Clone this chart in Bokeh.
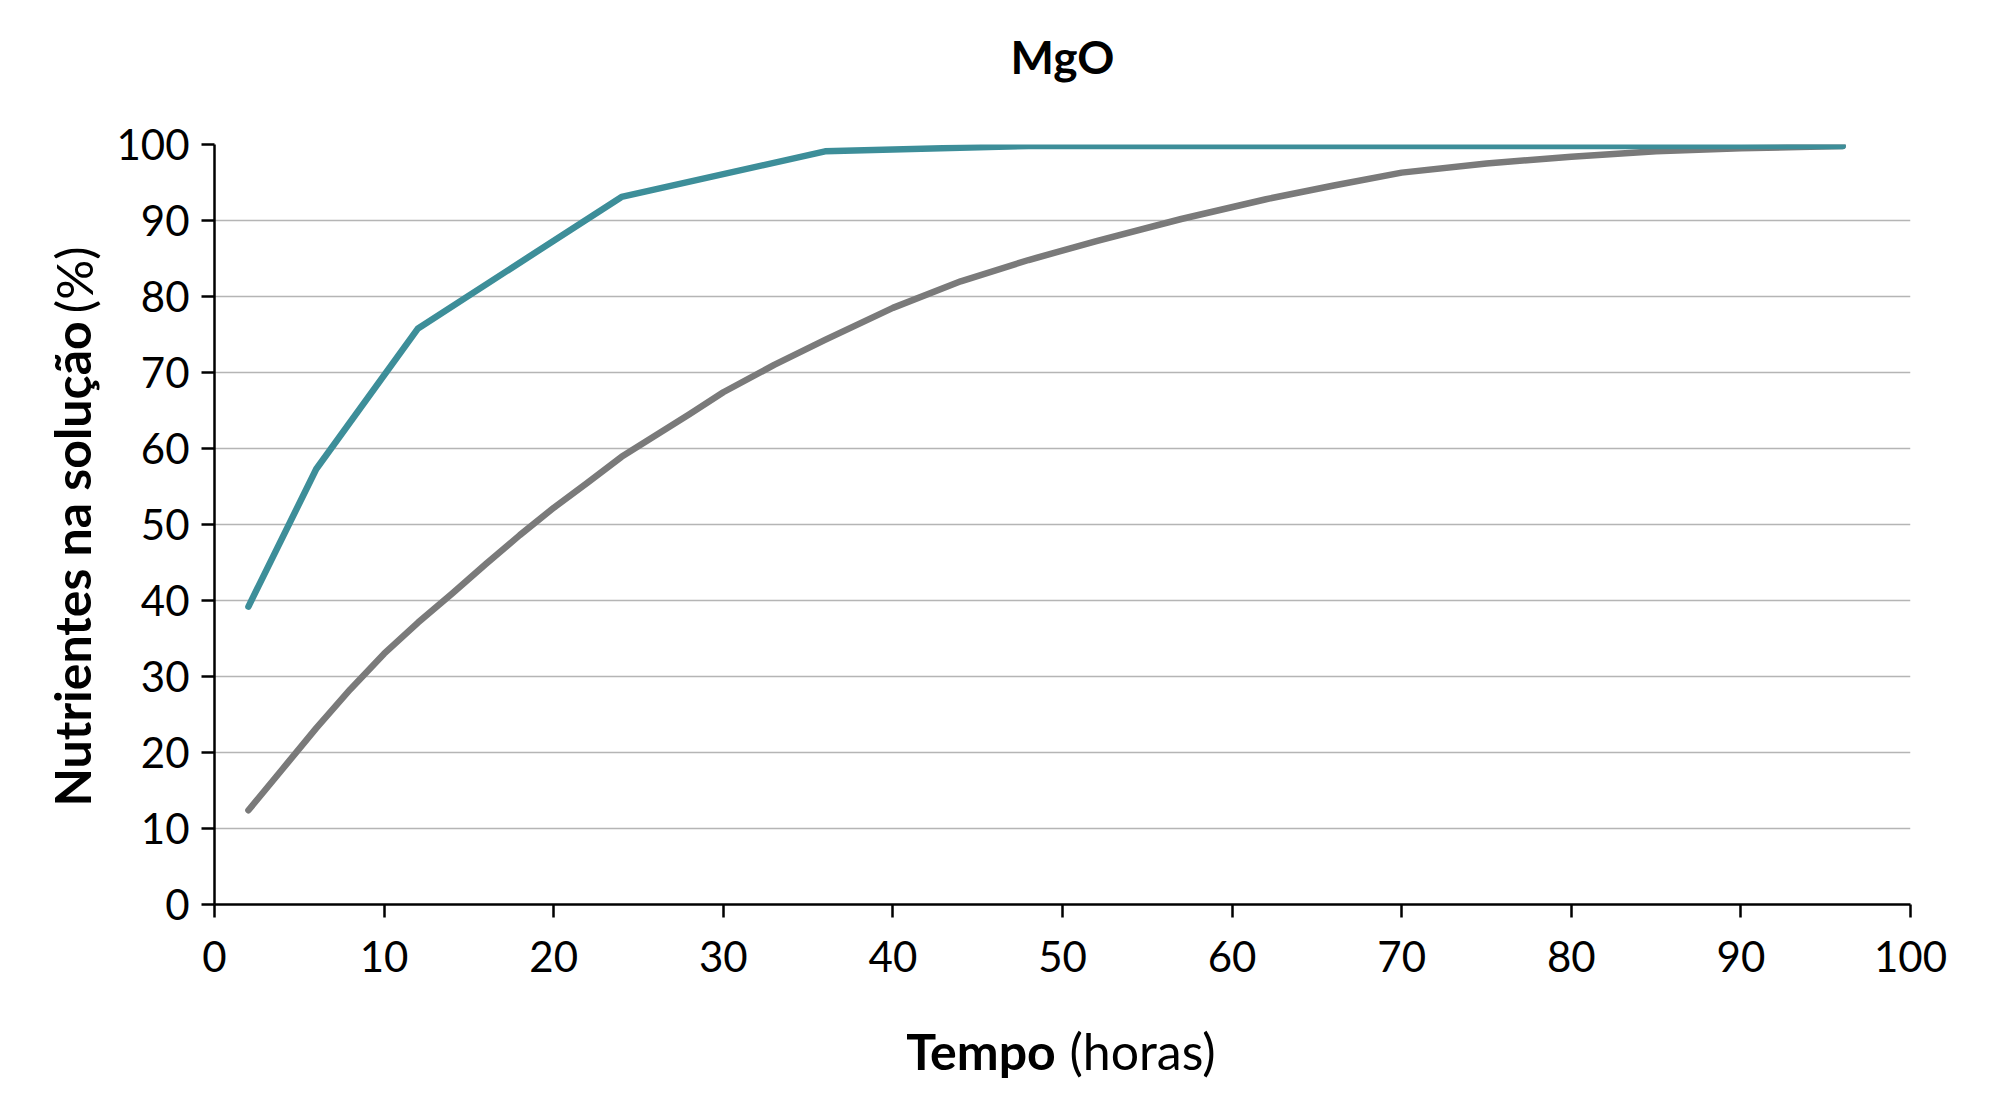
from bokeh.plotting import figure
from bokeh.models import Range1d, FixedTicker, Label
from bokeh.embed import file_html
from bokeh.resources import INLINE
from math import pi

# Data
teal_x = [2, 6, 12, 24, 36, 48, 72, 96]
teal_y = [39.2, 57.3, 75.8, 93.1, 99.1, 99.8, 99.8, 99.8]

gray_x = [2, 4, 6, 8, 10, 12, 14, 16, 18, 20, 22, 24, 26, 28, 30, 33, 36, 40, 44, 48,
          52, 57, 62, 66, 70, 75, 80, 85, 90, 96]
gray_y = [12.4, 17.8, 23.2, 28.3, 33.0, 37.1, 40.9, 44.8, 48.6, 52.2, 55.5, 58.9,
          61.7, 64.5, 67.4, 71.0, 74.3, 78.5, 82.0, 84.8, 87.3, 90.2, 92.8, 94.6,
          96.3, 97.5, 98.4, 99.1, 99.5, 99.8]

x_ticks = [0, 10, 20, 30, 40, 50, 60, 70, 80, 90, 100]
y_ticks = [0, 10, 20, 30, 40, 50, 60, 70, 80, 90, 100]

title_text = "MgO"
xlabel_bold, xlabel_norm = "Tempo", "(horas)"
ylabel_bold, ylabel_norm = "Nutrientes na solução", "(%)"

FONT = "Lato"

p = figure(frame_width=1696, frame_height=760,
           min_border_left=214, min_border_right=80,
           min_border_top=144, min_border_bottom=190,
           x_range=Range1d(0, 100), y_range=Range1d(0, 100),
           output_backend="svg", toolbar_location=None,
           background_fill_color="white", border_fill_color="white")
p.outline_line_color = None

# grid
p.xgrid.grid_line_color = None
p.ygrid.ticker = FixedTicker(ticks=y_ticks[1:])
p.ygrid.grid_line_color = "#b5b5b5"
p.ygrid.grid_line_width = 1.5

for ax in (p.xaxis[0], p.yaxis[0]):
    ax.axis_line_color = "black"
    ax.axis_line_width = 2.5
    ax.major_tick_line_color = "black"
    ax.major_tick_line_width = 2.5
    ax.major_tick_out = 13
    ax.major_tick_in = 0
    ax.minor_tick_line_color = None
    ax.major_label_text_font = FONT
    ax.major_label_text_font_size = "42px"
    ax.major_label_text_color = "black"

p.xaxis.ticker = FixedTicker(ticks=x_ticks)
p.yaxis.ticker = FixedTicker(ticks=y_ticks)
p.xaxis.major_label_standoff = 23
p.yaxis.major_label_standoff = 12

p.line(gray_x, gray_y, line_color="#7a7a7a", line_width=6.5,
       line_cap="round", line_join="round")
p.line(teal_x, teal_y, line_color="#3d8e99", line_width=6.5,
       line_cap="round", line_join="round")


def lab(text, x, y, style, size, angle=0.0, align="left"):
    return Label(x=x, y=y, text=text, angle=angle, text_align=align,
                 text_baseline="alphabetic", text_font=FONT,
                 text_font_style=style, text_font_size=size, text_color="black")


# title (above the frame)
p.add_layout(lab(title_text, 50, 111.55, "bold", "46px", align="center"), "above")

# x-axis label (bold + normal)
p.add_layout(lab(xlabel_bold, 40.78, -19.3, "bold", "50px"), "below")
p.add_layout(lab(xlabel_norm, 50.41, -19.3, "normal", "50px"), "below")

# y-axis label (bold + normal), rotated
p.add_layout(lab(ylabel_bold, -8.42, 12.9, "bold", "50px", pi / 2), "left")
p.add_layout(lab(ylabel_norm, -8.28, 77.8, "normal", "50px", pi / 2), "right")

open("out.html", "w").write(file_html(p, INLINE))
